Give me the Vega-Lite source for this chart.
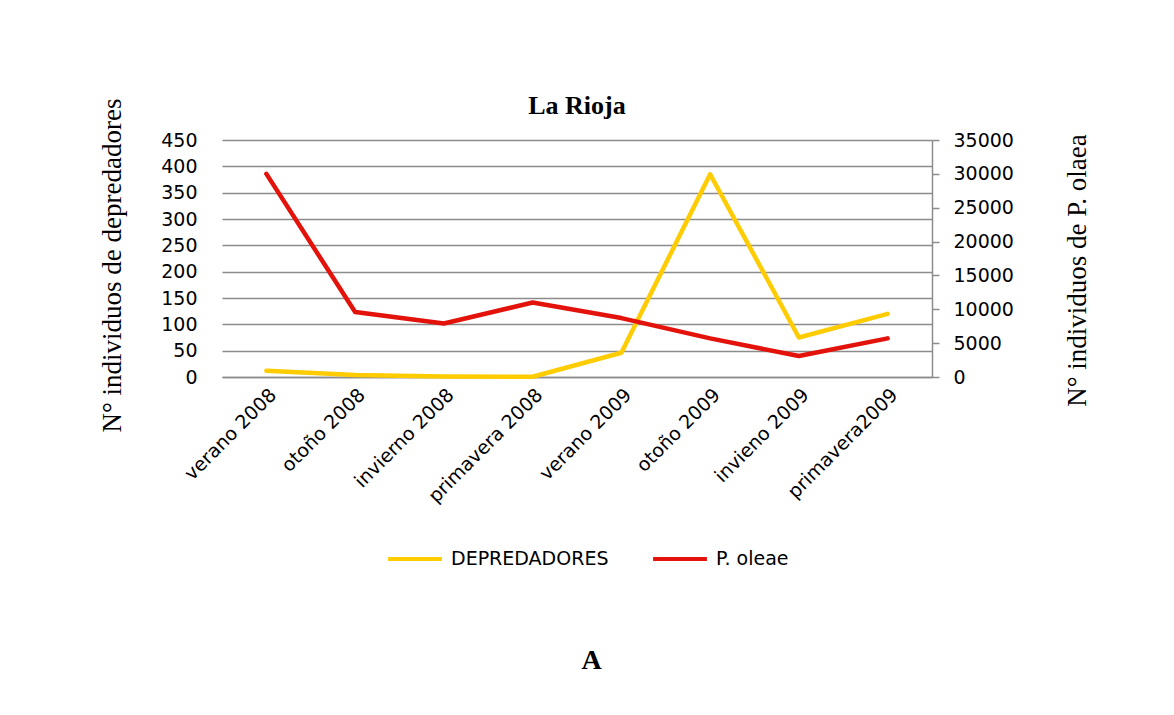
{
  "$schema": "https://vega.github.io/schema/vega-lite/v6.json",
  "width": 710,
  "height": 237,
  "autosize": {"type": "none"},
  "padding": {"left": 222, "top": 140, "right": 242, "bottom": 338},
  "background": "white",
  "title": {
    "text": "La Rioja",
    "font": "Liberation Serif",
    "fontSize": 26,
    "fontWeight": "bold",
    "color": "black",
    "anchor": "middle",
    "frame": "group",
    "offset": -21
  },
  "config": {
    "view": {"stroke": null},
    "axis": {"labelFont": "DejaVu Sans", "labelFontSize": 19, "labelColor": "black", "titleColor": "black"}
  },
  "data": {
    "values": [
      {"periodo": "verano 2008", "depredadores": 12, "poleae": 30000},
      {"periodo": "otoño 2008", "depredadores": 4, "poleae": 9600},
      {"periodo": "invierno 2008", "depredadores": 1, "poleae": 7900},
      {"periodo": "primavera 2008", "depredadores": 0.5, "poleae": 11000},
      {"periodo": "verano 2009", "depredadores": 46, "poleae": 8700},
      {"periodo": "otoño 2009", "depredadores": 385, "poleae": 5700},
      {"periodo": "invieno 2009", "depredadores": 75, "poleae": 3100},
      {"periodo": "primavera2009", "depredadores": 120, "poleae": 5700}
    ]
  },
  "encoding": {
    "x": {
      "field": "periodo",
      "type": "nominal",
      "sort": null,
      "scale": {"type": "point", "padding": 0.5},
      "axis": {
        "title": "A",
        "titleFont": "Liberation Serif",
        "titleFontSize": 28,
        "titleFontWeight": "bold",
        "titleX": 369,
        "titleY": 291,
        "titleBaseline": "alphabetic",
        "labelAngle": -45,
        "ticks": false,
        "tickSize": 0,
        "labelPadding": 8,
        "domainColor": "#8c8c8c",
        "domainWidth": 1.5,
        "grid": false
      }
    }
  },
  "layer": [
    {
      "mark": {"type": "line", "strokeWidth": 4.5, "strokeJoin": "round", "strokeCap": "round"},
      "encoding": {
        "y": {
          "field": "depredadores",
          "type": "quantitative",
          "scale": {"domain": [0, 450], "nice": false},
          "axis": {
            "orient": "left",
            "values": [0, 50, 100, 150, 200, 250, 300, 350, 400, 450],
            "title": "N° individuos de depredadores",
            "titleFont": "Liberation Serif",
            "titleFontSize": 27,
            "titleFontWeight": "normal",
            "titleAngle": -90,
            "titleX": -110,
            "titleY": 125,
            "titleBaseline": "middle",
            "domain": false,
            "ticks": false,
            "tickSize": 0,
            "labelPadding": 25,
            "grid": true,
            "gridColor": "#8c8c8c",
            "gridWidth": 1.5,
            "gridOpacity": 1
          }
        },
        "color": {
          "datum": "DEPREDADORES",
          "type": "nominal",
          "scale": {"domain": ["DEPREDADORES", "P. oleae"], "range": ["#FFCC00", "#E3120B"]},
          "legend": {
            "title": null,
            "orient": "none",
            "direction": "horizontal",
            "legendX": 164,
            "legendY": 390,
            "symbolType": "stroke",
            "symbolSize": 2900,
            "symbolStrokeWidth": 4,
            "labelFont": "DejaVu Sans",
            "labelFontSize": 19,
            "labelColor": "black",
            "labelOffset": 7,
            "columnPadding": 36
          }
        }
      }
    },
    {
      "mark": {"type": "line", "strokeWidth": 4.5, "strokeJoin": "round", "strokeCap": "round"},
      "encoding": {
        "y": {
          "field": "poleae",
          "type": "quantitative",
          "scale": {"domain": [0, 35000], "nice": false},
          "axis": {
            "orient": "right",
            "values": [0, 5000, 10000, 15000, 20000, 25000, 30000, 35000],
            "format": "d",
            "title": "N° individuos de P. olaea",
            "titleFont": "Liberation Serif",
            "titleFontSize": 27,
            "titleFontWeight": "normal",
            "titleAngle": -90,
            "titleX": 145,
            "titleY": 130,
            "titleBaseline": "middle",
            "domain": true,
            "domainColor": "#8c8c8c",
            "domainWidth": 1.5,
            "ticks": true,
            "tickColor": "#8c8c8c",
            "tickWidth": 1.5,
            "tickSize": 7,
            "labelPadding": 14,
            "grid": false
          }
        },
        "color": {"datum": "P. oleae", "type": "nominal"}
      }
    }
  ],
  "resolve": {"scale": {"y": "independent"}}
}
